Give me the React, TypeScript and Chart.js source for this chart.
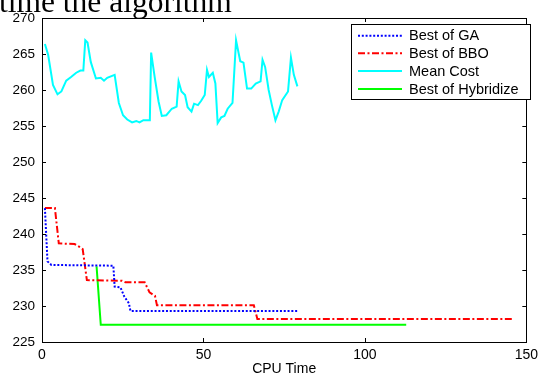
import React, { useEffect, useRef } from "react";
import { Chart, registerables } from "chart.js";

Chart.register(...registerables);

const xTicks = [0, 50, 100, 150];
const yTicks = [225, 230, 235, 240, 245, 250, 255, 260, 265, 270];
const xTitle = "CPU Time";
const headText = "time the algorithm";
const legendLabels = ["Best of GA", "Best of BBO", "Mean Cost", "Best of Hybridize"];

const gaTime = [0.9, 1.7, 2.9, 22.1, 22.5, 24.3, 25.5, 26.9, 27.4, 79.4];
const gaCost = [243.6, 236.2, 235.7, 235.6, 232.7, 232.6, 231.3, 230.4, 229.3, 229.3];

const bboTime = [0.9, 4.0, 5.2, 10.1, 11.6, 12.6, 13.9, 24.8, 25.8, 31.8, 33.3, 35.0, 35.6, 65.6, 66.7, 145.5];
const bboCost = [243.6, 243.6, 238.7, 238.6, 238.2, 237.9, 233.6, 233.5, 233.3, 233.3, 231.9, 231.4, 230.1, 230.1, 228.2, 228.2];

const meanTime = [
  0.9, 1.9, 3.4, 4.8, 6.0, 7.5, 9.0, 10.6, 11.9, 12.8, 13.4, 14.1, 15.1, 16.7, 18.2, 19.2, 20.2, 22.5,
  23.8, 25.1, 26.4, 27.9, 29.2, 30.2, 31.4, 33.4, 33.8, 34.9, 36.1, 37.1, 38.5, 40.2, 41.7, 42.3, 43.2,
  44.3, 45.1, 46.3, 47.1, 48.3, 49.3, 50.4, 51.1, 51.7, 52.9, 53.7, 54.4, 55.5, 56.5, 57.5, 59.0, 60.1,
  61.4, 62.4, 63.5, 64.8, 66.2, 67.7, 68.3, 69.1, 70.2, 71.2, 72.3, 73.3, 74.4, 76.2, 77.1, 78.0, 79.1,
];
const meanCost = [
  266.4, 264.9, 260.7, 259.4, 259.8, 261.3, 261.8, 262.4, 262.7, 262.7, 266.9, 266.6, 263.9, 261.6, 261.7,
  261.3, 261.7, 262.1, 258.2, 256.5, 255.9, 255.5, 255.7, 255.5, 255.8, 255.8, 265.2, 261.8, 258.4, 256.4,
  256.5, 257.4, 257.7, 261.2, 259.8, 259.3, 257.6, 257.0, 258.1, 257.9, 258.5, 259.3, 262.8, 261.8, 262.4,
  260.9, 255.4, 256.2, 256.4, 257.4, 258.2, 266.9, 264.0, 263.8, 260.2, 260.2, 260.9, 261.2, 264.2, 263.2,
  260.0, 257.9, 255.8, 257.0, 258.6, 259.8, 264.5, 262.1, 260.5,
];

const hybTime = [16.9, 18.2, 112.8];
const hybCost = [235.5, 227.4, 227.4];

const seriesColors = ["#0000ff", "#ff0000", "#00ffff", "#00ff00"];
const seriesDash: number[][] = [[2, 1.8], [7, 2.5, 2, 2.5], [], []];

const toPts = (xs: number[], ys: number[]) => xs.map((x, i) => ({ x, y: ys[i] }));

const framePlugin = {
  id: "frame",
  afterDraw(chart: any) {
    const { ctx, chartArea: a, scales } = chart;
    ctx.save();
    // head text (cropped paper text)
    ctx.fillStyle = "#000";
    ctx.font = '31.5px "Liberation Serif"';
    ctx.textBaseline = "alphabetic";
    ctx.textAlign = "left";
    ctx.fillText(headText, -1, 12);

    ctx.strokeStyle = "#000";
    ctx.lineWidth = 1;
    const line = (x1: number, y1: number, x2: number, y2: number) => {
      ctx.beginPath();
      ctx.moveTo(x1, y1);
      ctx.lineTo(x2, y2);
      ctx.stroke();
    };
    xTicks.forEach((v) => {
      const px = Math.round(scales.x.getPixelForValue(v)) + 0.5;
      line(px, a.bottom, px, a.bottom - 4);
      line(px, a.top, px, a.top + 4);
    });
    yTicks.forEach((v) => {
      const py = Math.round(scales.y.getPixelForValue(v)) + 0.5;
      line(a.left, py, a.left + 4, py);
      line(a.right, py, a.right - 4, py);
    });
    ctx.strokeRect(Math.round(a.left) + 0.5, Math.round(a.top) + 0.5, Math.round(a.right - a.left), Math.round(a.bottom - a.top));

    // legend
    const bx = 351, by = 24, bw = 179, bh = 75;
    ctx.fillStyle = "#fff";
    ctx.fillRect(bx, by, bw, bh);
    ctx.strokeRect(bx + 0.5, by + 0.5, bw, bh);
    const rows = [35.7, 53.3, 71, 89];
    ctx.font = '14.5px "Liberation Sans"';
    ctx.textBaseline = "middle";
    legendLabels.forEach((lab, i) => {
      ctx.strokeStyle = seriesColors[i];
      ctx.lineWidth = 2;
      ctx.setLineDash(seriesDash[i]);
      line(358, rows[i], 402, rows[i]);
      ctx.setLineDash([]);
      ctx.fillStyle = "#000";
      ctx.fillText(lab, 409, rows[i] + 0.5);
    });
    ctx.restore();
  },
};

export default function App() {
  const ref = useRef<HTMLCanvasElement>(null);
  useEffect(() => {
    if (!ref.current) return;
    const datasets = [
      toPts(gaTime, gaCost),
      toPts(bboTime, bboCost),
      toPts(meanTime, meanCost),
      toPts(hybTime, hybCost),
    ].map((data, i) => ({
      label: legendLabels[i],
      data,
      borderColor: seriesColors[i],
      backgroundColor: seriesColors[i],
      borderWidth: 2,
      borderDash: seriesDash[i],
      pointRadius: 0,
      tension: 0,
      fill: false,
    }));
    const chart = new Chart(ref.current, {
      type: "line",
      data: { datasets },
      options: {
        animation: false,
        responsive: false,
        maintainAspectRatio: false,
        layout: { padding: { top: 18, right: 10, left: 0, bottom: 0 } },
        plugins: { legend: { display: false }, tooltip: { enabled: false } },
        scales: {
          x: {
            type: "linear",
            min: 0,
            max: 150,
            afterFit: (s: any) => { s.height = 32; },
            afterBuildTicks: (s: any) => { s.ticks = xTicks.map((v) => ({ value: v })); },
            grid: { display: false, drawTicks: false },
            border: { display: false },
            ticks: { color: "#000", padding: 5, maxRotation: 0, font: { family: "Liberation Sans", size: 14 } },
            title: { display: true, text: xTitle, color: "#000", padding: { top: 0, bottom: 0 }, font: { family: "Liberation Sans", size: 14, lineHeight: 0.65 } },
          },
          y: {
            type: "linear",
            min: 225,
            max: 270,
            afterFit: (s: any) => { s.width = 42; },
            afterBuildTicks: (s: any) => { s.ticks = yTicks.map((v) => ({ value: v })); },
            grid: { display: false, drawTicks: false },
            border: { display: false },
            ticks: { color: "#000", padding: 7, font: { family: "Liberation Sans", size: 13.5 } },
          },
        },
      },
      plugins: [framePlugin],
    } as any);
    return () => chart.destroy();
  }, []);
  return (
    <div style={{ position: "absolute", left: 0, top: 0, width: 543, height: 374, background: "#fff" }}>
      <canvas ref={ref} width={543} height={374} style={{ display: "block" }} />
    </div>
  );
}
